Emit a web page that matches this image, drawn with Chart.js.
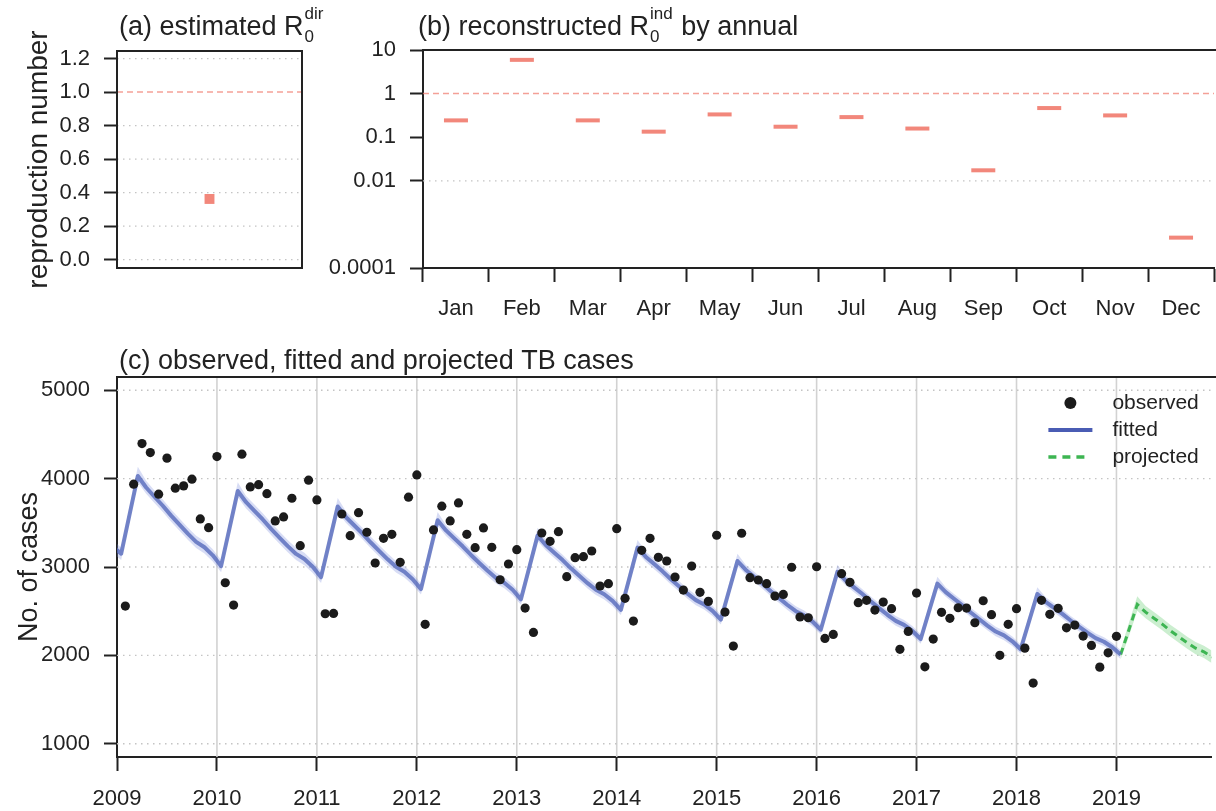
<!DOCTYPE html>
<html><head><meta charset="utf-8">
<script src="https://cdn.jsdelivr.net/npm/chart.js@4.4.1/dist/chart.umd.min.js"></script>
<style>
html,body{margin:0;padding:0;background:#fff;overflow:hidden;width:1216px;height:811px;position:relative;}
canvas{position:absolute;display:block;}
#ca{left:0;top:0;}
#cb{left:320px;top:0;}
#cc{left:0;top:330px;}
</style></head><body>
<canvas id="ca" width="345" height="300"></canvas>
<canvas id="cb" width="910" height="330"></canvas>
<canvas id="cc" width="1216" height="481"></canvas>
<script>
// ---------- data ----------
// (a) estimated R0 dir
const r0dir = [0.362];
const yTicksA = [0, 0.2, 0.4, 0.6, 0.8, 1.0, 1.2];
const refLineA = 1.0;

// (b) reconstructed R0 ind by month
const monthLabels = ['Jan','Feb','Mar','Apr','May','Jun','Jul','Aug','Sep','Oct','Nov','Dec'];
const r0ind = [0.243, 5.94, 0.243, 0.134, 0.333, 0.174, 0.289, 0.158, 0.0174, 0.466, 0.316, 0.000497];
const yTicksB = [0.0001, 0.01, 0.1, 1, 10];
const dottedB = [0.01];
const refLineB = 1;

// (c) TB cases
const yearTicks = [2009,2010,2011,2012,2013,2014,2015,2016,2017,2018,2019];
const yTicksC = [1000, 2000, 3000, 4000, 5000];
// observed monthly, Jan 2009 .. Dec 2018
const observed = [
 2558,3937,4397,4295,3824,4232,3892,3918,3994,3544,3445,4250,
 2822,2569,4277,3906,3932,3830,3521,3567,3778,3241,3982,3759,
 2471,2475,3600,3355,3615,3393,3045,3325,3370,3053,3790,4042,
 2351,3419,3688,3521,3725,3370,3219,3442,3223,2856,3034,3196,
 2535,2260,3385,3291,3400,2890,3105,3117,3181,2785,2811,3434,
 2645,2388,3189,3325,3110,3068,2887,2739,3011,2713,2611,3359,
 2490,2105,3382,2879,2853,2811,2671,2690,2997,2434,2426,3003,
 2192,2237,2924,2827,2596,2623,2513,2603,2528,2068,2271,2705,
 1870,2184,2487,2419,2539,2535,2369,2618,2460,2000,2351,2528,
 2082,1686,2623,2464,2532,2312,2343,2218,2113,1867,2029,2215
];
// fitted monthly, Dec 2008 .. Jan 2019
const fitted = [3230,
 3150,3590,4030,3900,3795,3693,3581,3479,3377,3285,3224,3132,
 3010,3435,3860,3733,3636,3538,3431,3333,3236,3148,3090,3002,
 2885,3285,3685,3563,3470,3376,3274,3180,3087,3003,2946,2862,
 2750,3140,3530,3414,3324,3234,3136,3046,2957,2876,2822,2742,
 2634,2995,3355,3246,3162,3078,2985,2901,2817,2742,2691,2616,
 2515,2868,3220,3114,3033,2951,2861,2780,2698,2625,2576,2503,
 2405,2737,3068,2967,2889,2811,2726,2648,2570,2500,2453,2383,
 2290,2618,2945,2846,2770,2694,2611,2535,2459,2390,2345,2276,
 2185,2499,2812,2716,2641,2567,2485,2411,2337,2270,2226,2159,
 2070,2383,2695,2606,2537,2469,2394,2325,2257,2195,2154,2092,
 2010];
const fittedUpper = [3300,
 3220,3680,4135,3975,3865,3763,3651,3549,3447,3355,3294,3202,
 3080,3525,3960,3803,3706,3608,3501,3403,3306,3218,3160,3072,
 2950,3370,3780,3628,3535,3441,3339,3245,3152,3068,3011,2927,
 2812,3222,3622,3476,3386,3296,3198,3108,3019,2938,2884,2804,
 2694,3075,3445,3306,3222,3138,3045,2961,2877,2802,2751,2676,
 2573,2946,3306,3172,3091,3009,2919,2838,2756,2683,2634,2561,
 2461,2812,3150,3023,2945,2867,2782,2704,2626,2556,2509,2439,
 2345,2692,3025,2901,2825,2749,2666,2590,2514,2445,2400,2331,
 2239,2572,2890,2770,2695,2621,2539,2465,2391,2324,2280,2213,
 2122,2454,2770,2658,2589,2521,2446,2377,2309,2247,2206,2144,
 2060];
const fittedLower = [3160,
 3080,3510,3960,3830,3725,3623,3511,3409,3307,3215,3154,3062,
 2940,3355,3790,3663,3566,3468,3361,3263,3166,3078,3020,2932,
 2820,3210,3620,3498,3405,3311,3209,3115,3022,2938,2881,2797,
 2688,3068,3468,3352,3262,3172,3074,2984,2895,2814,2760,2680,
 2574,2925,3295,3186,3102,3018,2925,2841,2757,2682,2631,2556,
 2457,2800,3162,3056,2975,2893,2803,2722,2640,2567,2518,2445,
 2349,2671,3012,2911,2833,2755,2670,2592,2514,2444,2397,2327,
 2235,2553,2890,2791,2715,2639,2556,2480,2404,2335,2290,2221,
 2131,2435,2758,2662,2587,2513,2431,2357,2283,2216,2172,2105,
 2018,2321,2643,2554,2485,2417,2342,2273,2205,2143,2102,2040,
 1960];
// projected monthly, Jan 2019 .. Dec 2019
const projected      = [2010,2290,2577,2489,2421,2353,2278,2210,2142,2081,2040,1979];
const projectedUpper = [2065,2370,2670,2560,2490,2420,2345,2278,2210,2150,2110,2050];
const projectedLower = [1955,2215,2505,2420,2352,2285,2210,2142,2075,2012,1970,1908];

// ---------- helpers ----------
const FONT = "'Liberation Sans', Arial, Helvetica, sans-serif";
const INK = '#222222';
const SALMON = '#f2877b';
const REF = 'rgba(240,128,116,0.75)';
const DOT = '#c4c4c4';
const obsX = i => 2009 + (i + 1) / 12;
const fitX = i => 2009 + (i - 0.5) / 12;
const projX = i => 2019 + (i + 0.5) / 12;

function hline(ctx, x1, x2, y, color, dash, width) {
  ctx.save(); ctx.beginPath(); ctx.setLineDash(dash); ctx.strokeStyle = color; ctx.lineWidth = width;
  ctx.moveTo(x1, y); ctx.lineTo(x2, y); ctx.stroke(); ctx.restore();
}
function vline(ctx, x, y1, y2, color, dash, width) {
  ctx.save(); ctx.beginPath(); ctx.setLineDash(dash); ctx.strokeStyle = color; ctx.lineWidth = width;
  ctx.moveTo(x, y1); ctx.lineTo(x, y2); ctx.stroke(); ctx.restore();
}
function drawTitle(ctx, x, y, main, sub, sup, rest) {
  ctx.save();
  ctx.fillStyle = INK; ctx.textBaseline = 'alphabetic'; ctx.textAlign = 'left';
  ctx.font = '27px ' + FONT;
  ctx.fillText(main, x, y);
  let cx = x + ctx.measureText(main).width;
  if (sub || sup) {
    ctx.font = '17px ' + FONT;
    const w = Math.max(ctx.measureText(sub).width, ctx.measureText(sup).width);
    ctx.fillText(sub, cx + 1, y + 7);
    ctx.fillText(sup, cx + 1, y - 16);
    cx += w + 2;
  }
  if (rest) { ctx.font = '27px ' + FONT; ctx.fillText(rest, cx, y); }
  ctx.restore();
}
const tickFont = {family: FONT, size: 22};
function gridOpts(len) { return {drawOnChartArea: false, drawTicks: true, tickLength: len, tickColor: INK, tickWidth: 2}; }
const borderOpts = {display: true, color: INK, width: 2};

// ---------- (a) ----------
new Chart(document.getElementById('ca'), {
  type: 'scatter',
  data: {datasets: [{label: 'R0 dir', data: r0dir.map(v => ({x: 0, y: v})),
    pointStyle: 'rect', pointRadius: 7, pointHoverRadius: 7, backgroundColor: SALMON, borderWidth: 0}]},
  options: {
    animation: false, responsive: false, events: [],
    layout: {padding: {top: 51, right: 43, bottom: 32, left: 0}},
    plugins: {legend: {display: false}, tooltip: {enabled: false}},
    scales: {
      x: {type: 'linear', min: -1, max: 1, display: false},
      y: {min: -0.05, max: 1.245,
        afterBuildTicks: s => { s.ticks = yTicksA.map(v => ({value: v})); },
        afterFit: s => { s.width = 117; },
        ticks: {color: INK, font: tickFont, padding: 14, callback: v => Number(v).toFixed(1)},
        grid: gridOpts(13), border: borderOpts,
        title: {display: true, text: 'reproduction number', color: INK, font: {family: FONT, size: 28}, padding: {top: 22, bottom: 0}}
      }
    }
  },
  plugins: [{
    id: 'decoA',
    beforeDatasetsDraw(chart) {
      const {ctx, chartArea: a, scales: {y}} = chart;
      yTicksA.forEach(v => { if (v !== refLineA) hline(ctx, a.left, a.right, y.getPixelForValue(v), DOT, [1.5, 4.5], 1.3); });
      hline(ctx, a.left, a.right, y.getPixelForValue(refLineA), REF, [6, 4], 1.5);
    },
    afterDraw(chart) {
      const {ctx, chartArea: a} = chart;
      ctx.save(); ctx.strokeStyle = INK; ctx.lineWidth = 2; ctx.strokeRect(a.left, a.top, a.right - a.left, a.bottom - a.top); ctx.restore();
      drawTitle(ctx, 119, 35, '(a) estimated R', '0', 'dir', '');
    }
  }]
});

// ---------- (b) ----------
new Chart(document.getElementById('cb'), {
  type: 'line',
  data: {labels: monthLabels, datasets: [{label: 'R0 ind', data: r0ind, showLine: false,
    pointStyle: 'line', pointRadius: 12, pointHoverRadius: 12, pointBorderWidth: 4, pointBorderColor: SALMON, borderColor: SALMON}]},
  options: {
    animation: false, responsive: false, events: [],
    layout: {padding: {top: 50, right: 11, bottom: 0, left: 0}},
    plugins: {legend: {display: false}, tooltip: {enabled: false}},
    scales: {
      x: {type: 'category', offset: true,
        afterFit: s => { s.height = 62; },
        ticks: {color: INK, font: tickFont, padding: 14, maxRotation: 0, autoSkip: false},
        grid: Object.assign(gridOpts(14), {offset: true}), border: borderOpts},
      y: {type: 'logarithmic', min: 0.0001, max: 10,
        afterBuildTicks: s => { s.ticks = yTicksB.map(v => ({value: v})); },
        afterFit: s => { s.width = 103; },
        ticks: {color: INK, font: tickFont, padding: 14, callback: v => String(v)},
        grid: gridOpts(13), border: borderOpts}
    }
  },
  plugins: [{
    id: 'decoB',
    beforeDatasetsDraw(chart) {
      const {ctx, chartArea: a, scales: {y}} = chart;
      dottedB.forEach(v => hline(ctx, a.left, a.right, y.getPixelForValue(v), DOT, [1.5, 4.5], 1.3));
      hline(ctx, a.left, a.right, y.getPixelForValue(refLineB), REF, [6, 4], 1.5);
    },
    afterDraw(chart) {
      const {ctx, chartArea: a} = chart;
      hline(ctx, a.left - 1, chart.width, a.top, INK, [], 2);
      drawTitle(ctx, 98, 35, '(b) reconstructed R', '0', 'ind', ' by annual');
    }
  }]
});

// ---------- (c) ----------
const noLine = 'rgba(0,0,0,0)';
new Chart(document.getElementById('cc'), {
  type: 'line',
  data: {datasets: [
    {label: 'observed', data: observed.map((v, i) => ({x: obsX(i), y: v})), showLine: false,
      pointRadius: 4.6, pointHoverRadius: 4.6, pointBackgroundColor: '#1b1b1b', pointBorderWidth: 0, borderColor: '#1b1b1b'},
    {label: 'fitted', data: fitted.map((v, i) => ({x: fitX(i), y: v})), borderColor: 'rgba(86,106,188,0.8)',
      borderWidth: 4, pointRadius: 0, tension: 0, fill: false, borderJoinStyle: 'round'},
    {label: 'projected', data: projected.map((v, i) => ({x: projX(i), y: v})), borderColor: '#3db552',
      borderDash: [7, 5], borderWidth: 3, pointRadius: 0, tension: 0, fill: false},
    {label: 'fitted CI upper', data: fittedUpper.map((v, i) => ({x: fitX(i), y: v})), borderColor: noLine,
      borderWidth: 1, pointRadius: 0, fill: '+1', backgroundColor: 'rgba(125,142,222,0.3)'},
    {label: 'fitted CI lower', data: fittedLower.map((v, i) => ({x: fitX(i), y: v})), borderColor: noLine,
      borderWidth: 1, pointRadius: 0, fill: false},
    {label: 'projected CI upper', data: projectedUpper.map((v, i) => ({x: projX(i), y: v})), borderColor: noLine,
      borderWidth: 1, pointRadius: 0, fill: '+1', backgroundColor: 'rgba(130,215,140,0.42)'},
    {label: 'projected CI lower', data: projectedLower.map((v, i) => ({x: projX(i), y: v})), borderColor: noLine,
      borderWidth: 1, pointRadius: 0, fill: false}
  ]},
  options: {
    animation: false, responsive: false, events: [],
    layout: {padding: {top: 47, right: 0, bottom: 0, left: 0}},
    plugins: {legend: {display: false}, tooltip: {enabled: false}},
    scales: {
      x: {type: 'linear', min: 2009, max: 2019.95,
        afterBuildTicks: s => { s.ticks = yearTicks.map(v => ({value: v})); },
        afterFit: s => { s.height = 54; },
        ticks: {color: INK, font: tickFont, padding: 15, maxRotation: 0, callback: v => String(v)},
        grid: gridOpts(14), border: borderOpts},
      y: {min: 850, max: 5150,
        afterBuildTicks: s => { s.ticks = yTicksC.map(v => ({value: v})); },
        afterFit: s => { s.width = 117; },
        ticks: {color: INK, font: tickFont, padding: 14, callback: v => String(v)},
        grid: gridOpts(13), border: borderOpts,
        title: {display: true, text: 'No. of cases', color: INK, font: {family: FONT, size: 27}, padding: {top: 13, bottom: 0}}}
    }
  },
  plugins: [{
    id: 'decoC',
    beforeDatasetsDraw(chart) {
      const {ctx, chartArea: a, scales: {x, y}} = chart;
      yearTicks.forEach(v => { if (v > 2009) vline(ctx, x.getPixelForValue(v), a.top, a.bottom, '#d2d2d2', [], 1.6); });
      yTicksC.forEach(v => hline(ctx, a.left, a.right, y.getPixelForValue(v), DOT, [1.5, 4.5], 1.3));
    },
    afterDraw(chart) {
      const {ctx, chartArea: a} = chart;
      hline(ctx, a.left - 1, chart.width, a.top, INK, [], 2);
      drawTitle(ctx, 119, 39, '(c) observed, fitted and projected TB cases', '', '', '');
      // legend
      const R = a.right;
      ctx.save();
      ctx.fillStyle = '#1b1b1b';
      ctx.beginPath(); ctx.arc(R - 141, 73, 6, 0, Math.PI * 2); ctx.fill();
      hline(ctx, R - 163, R - 119, 100, '#4a5cb4', [], 4);
      hline(ctx, R - 163, R - 121, 127, '#3db552', [8, 6], 3.5);
      ctx.fillStyle = INK; ctx.font = '21px ' + FONT; ctx.textBaseline = 'middle'; ctx.textAlign = 'left';
      ctx.fillText('observed', R - 99, 73);
      ctx.fillText('fitted', R - 99, 100);
      ctx.fillText('projected', R - 99, 127);
      ctx.restore();
    }
  }]
});
</script></body></html>
